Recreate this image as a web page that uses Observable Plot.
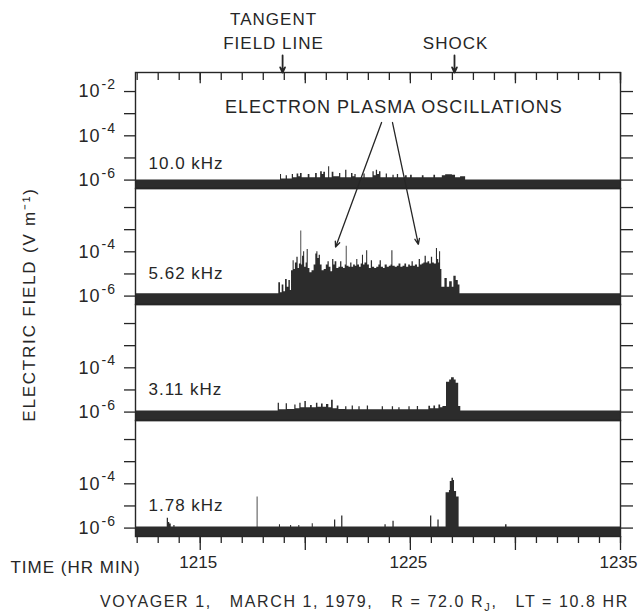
<!DOCTYPE html>
<html><head><meta charset="utf-8">
<script src="https://cdn.jsdelivr.net/npm/d3@7"></script>
<script src="https://cdn.jsdelivr.net/npm/@observablehq/plot@0.6"></script>
<style>
body{margin:0;background:#fff;}
#chart svg text{letter-spacing:1px;}
#chart svg g[aria-label="x-axis tick label"] text{letter-spacing:0;}
#cap{height:34px;box-sizing:border-box;padding-top:10px;padding-left:100px;font:16px "Liberation Sans",Arial,sans-serif;letter-spacing:1.6px;line-height:24px;white-space:pre;color:#2a2a2a;}
#cap sub{font-size:11px;vertical-align:-4px;line-height:0;}
</style></head><body>
<div id="chart"></div>
<div id="cap">VOYAGER 1,   MARCH 1, 1979,   R = 72.0 R<sub>J</sub>,   LT = 10.8 HR</div>
<script>
// Panels (frequency channels), top to bottom
const freqs = ["10.0 kHz", "5.62 kHz", "3.11 kHz", "1.78 kHz"];

// [time (minutes after 12:00 UT), log10 E (V/m)]
const p10 = [[11.92,-6.0],[18.82,-5.75],[18.87,-5.95],[19.09,-5.8],[19.15,-5.95],[19.38,-5.75],[19.44,-5.9],[19.61,-5.72],[19.69,-5.85],[19.77,-5.7],[19.85,-5.9],[20.14,-5.75],[20.22,-5.9],[20.49,-5.7],[20.57,-5.9],[20.73,-5.62],[20.81,-5.75],[20.88,-5.65],[20.96,-5.9],[21.11,-5.4],[21.16,-5.9],[21.28,-5.65],[21.36,-5.85],[21.63,-5.7],[21.69,-5.9],[21.92,-5.55],[21.98,-5.9],[22.2,-5.7],[22.27,-5.85],[22.36,-5.75],[22.42,-5.9],[22.79,-5.72],[22.85,-5.9],[23.22,-5.62],[23.28,-5.8],[23.38,-5.55],[23.44,-5.75],[23.53,-5.62],[23.6,-5.9],[23.85,-5.72],[23.91,-5.9],[24.17,-5.78],[24.23,-5.9],[24.38,-5.75],[24.44,-5.9],[24.77,-5.8],[24.85,-5.9],[25.01,-5.78],[25.09,-5.9],[25.57,-5.8],[25.65,-5.9],[26.12,-5.78],[26.2,-5.9],[26.52,-5.8],[26.68,-5.76],[27.0,-5.78],[27.15,-5.9],[27.39,-5.85],[27.63,-6.0],[35,-6.0]];

const p562 = [[11.92,-5.9],[18.74,-5.4],[18.82,-5.85],[18.9,-5.5],[18.98,-5.8],[19.06,-5.25],[19.14,-5.6],[19.22,-5.3],[19.29,-5.75],[19.345,-4.85],[19.42,-4.4],[19.47,-4.8],[19.53,-4.5],[19.6,-4.25],[19.66,-4.75],[19.72,-4.55],[19.79,-3.06],[19.83,-4.6],[19.87,-4.2],[19.92,-4.0],[19.97,-4.7],[20.04,-4.5],[20.09,-3.9],[20.14,-4.75],[20.22,-4.95],[20.32,-4.85],[20.42,-4.6],[20.5,-4.1],[20.55,-4.0],[20.6,-4.3],[20.66,-4.15],[20.72,-4.6],[20.8,-4.85],[20.9,-4.8],[21.0,-4.6],[21.08,-4.45],[21.14,-4.7],[21.22,-4.9],[21.3,-4.35],[21.36,-4.6],[21.42,-4.45],[21.5,-4.75],[21.6,-4.7],[21.68,-4.45],[21.74,-4.7],[21.82,-4.75],[21.9,-4.6],[21.95,-3.75],[21.99,-4.65],[22.08,-4.7],[22.16,-4.5],[22.22,-4.7],[22.3,-4.6],[22.38,-4.65],[22.45,-4.35],[22.5,-4.6],[22.58,-4.7],[22.66,-4.55],[22.72,-4.15],[22.77,-4.6],[22.84,-4.5],[22.92,-3.95],[22.97,-4.6],[23.05,-4.75],[23.14,-4.4],[23.2,-4.7],[23.3,-4.75],[23.4,-4.7],[23.5,-4.6],[23.56,-4.4],[23.62,-4.7],[23.72,-4.75],[23.8,-4.6],[23.9,-4.7],[24.0,-4.65],[24.08,-4.6],[24.12,-3.95],[24.17,-4.65],[24.28,-4.7],[24.38,-4.65],[24.46,-4.55],[24.55,-4.7],[24.65,-4.65],[24.74,-4.55],[24.82,-4.7],[24.92,-4.6],[25.0,-4.65],[25.08,-4.45],[25.14,-4.65],[25.24,-4.6],[25.34,-4.7],[25.42,-4.35],[25.48,-4.6],[25.56,-4.55],[25.64,-4.5],[25.7,-4.2],[25.76,-4.5],[25.84,-4.45],[25.92,-4.55],[26.0,-4.25],[26.06,-4.5],[26.14,-4.55],[26.24,-3.85],[26.29,-4.35],[26.35,-4.5],[26.39,-4.0],[26.44,-4.8],[26.5,-5.6],[26.645,-5.2],[26.756,-5.6],[26.87,-5.35],[26.994,-5.6],[27.07,-5.1],[27.18,-5.3],[27.28,-5.5],[27.36,-5.9],[35,-5.9]];

const p311 = [[11.92,-5.95],[18.71,-5.6],[18.77,-5.9],[19.09,-5.62],[19.15,-5.88],[19.5,-5.68],[19.56,-5.85],[19.74,-5.6],[19.8,-5.8],[19.98,-5.52],[20.05,-5.8],[20.25,-5.7],[20.33,-5.8],[20.53,-5.6],[20.6,-5.78],[20.77,-5.63],[20.85,-5.78],[21.01,-5.66],[21.12,-5.8],[21.25,-5.47],[21.33,-5.85],[21.52,-5.72],[21.6,-5.88],[21.92,-5.76],[21.98,-5.9],[22.23,-5.72],[22.29,-5.9],[22.55,-5.76],[22.61,-5.9],[22.95,-5.72],[23.01,-5.9],[23.66,-5.76],[23.72,-5.9],[24.14,-5.76],[24.2,-5.9],[24.45,-5.8],[24.51,-5.9],[24.93,-5.76],[24.99,-5.9],[25.33,-5.75],[25.39,-5.9],[25.88,-5.74],[25.96,-5.85],[26.12,-5.72],[26.2,-5.85],[26.36,-5.68],[26.44,-5.8],[26.55,-5.75],[26.72,-4.65],[26.87,-4.55],[26.96,-4.45],[27.09,-4.55],[27.18,-4.7],[27.3,-5.75],[27.4,-5.95],[35,-5.95]];

const p178 = [[11.92,-5.95],[13.43,-5.55],[13.49,-5.75],[13.55,-5.82],[13.62,-5.95],[13.745,-5.88],[13.8,-5.95],[17.71,-4.6],[17.75,-5.95],[18.77,-5.85],[18.82,-5.95],[19.3,-5.88],[19.35,-5.95],[19.69,-5.88],[19.74,-5.95],[20.33,-5.8],[20.38,-5.95],[21.39,-5.63],[21.45,-5.95],[21.73,-5.45],[21.79,-5.95],[23.79,-5.85],[23.85,-5.95],[24.17,-5.69],[24.23,-5.95],[25.96,-5.45],[26.02,-5.95],[26.31,-5.63],[26.37,-5.95],[26.7,-4.4],[26.86,-4.3],[26.9,-3.9],[26.98,-3.75],[27.05,-3.85],[27.1,-4.35],[27.2,-4.6],[27.32,-5.95],[29.53,-5.85],[29.6,-5.95],[35,-5.95]];

// Axis ticks
const yDecades = [1e-2, 1e-3, 1e-4, 1e-5, 1e-6];
const minuteTicks = [12,13,14,15,16,17,18,19,20,21,22,23,24,25,26,27,28,29,30,31,32,33,34,35];
const fiveMinTicks = [15,20,25,30,35];
const labeledTicks = [15,25,35];
// y tick labels per panel (exponents)
const yLabelExps = [[-2,-4,-6],[-4,-6],[-4,-6],[-4,-6]];
// frequency label heights (log10 E)
const freqLabelExp = [-5.25, -5.0, -5.0, -5.0];

// Annotation anchors (time in minutes, log10 E in the named panel)
const tangentTime = 18.92, shockTime = 27.1;
const plasmaArrows = [
  {t1: 23.63, e1: 1.84, t2: 21.44, e2: -3.79},
  {t1: 24.15, e1: 1.84, t2: 25.38, e2: -3.66}
];

const yLo = 10 ** -6.38, yHi = 10 ** -1.14;

const rows = [];
[p10, p562, p311, p178].forEach((p, i) => p.forEach(([t, e]) => rows.push({f: freqs[i], t, v: 10 ** e})));

const yLabels = [];
yLabelExps.forEach((es, i) => es.forEach(e => yLabels.push({f: freqs[i], v: 10 ** e, sup: String(e)})));
const freqLabels = freqs.map((f, i) => ({f, v: 10 ** freqLabelExp[i]}));

const ink = "#262626";
const font = "'Liberation Sans', Arial, sans-serif";

const chart = Plot.plot({
  width: 638, height: 580,
  marginLeft: 135, marginRight: 18, marginTop: 72, marginBottom: 44,
  x: {domain: [11.92, 35]},
  y: {type: "log", domain: [yLo, yHi]},
  fy: {domain: freqs, padding: 0, axis: null},
  style: {fontFamily: font, fontSize: "17px", color: ink, background: "#fff"},
  marks: [
    Plot.areaY(rows, {x: "t", y1: yLo, y2: "v", fy: "f", curve: "step-after", fill: "#2c2c2c"}),
    Plot.frame({stroke: ink, strokeWidth: 1.4}),
    Plot.axisY({anchor: "left", ticks: yDecades, tickSize: 11, tickFormat: () => "", label: null, strokeWidth: 1.3}),
    Plot.axisY({anchor: "right", ticks: yDecades, tickSize: 12, tickFormat: () => "", label: null, strokeWidth: 1.3}),
    Plot.axisX({anchor: "bottom", ticks: minuteTicks, tickSize: 7, tickFormat: () => "", label: null, strokeWidth: 1.3}),
    Plot.axisX({anchor: "bottom", ticks: fiveMinTicks, tickSize: 14, tickFormat: () => "", label: null, strokeWidth: 1.3}),
    Plot.axisX({anchor: "bottom", ticks: labeledTicks, tickSize: 0, tickPadding: 19, dx: -2, tickFormat: d => "12" + d, label: null, fontSize: 17}),
    // top inward ticks
    Plot.ruleX(minuteTicks.map(m => ({f: freqs[0], m})), {x: "m", fy: "f", y1: yHi, y2: 10 ** -1.5, stroke: ink, strokeWidth: 1.3}),
    Plot.ruleX(fiveMinTicks.map(m => ({f: freqs[0], m})), {x: "m", fy: "f", y1: yHi, y2: 10 ** -1.65, stroke: ink, strokeWidth: 1.3}),
    // y tick labels 10^e
    Plot.text(yLabels, {y: "v", fy: "f", frameAnchor: "left", text: () => "10", textAnchor: "end", dx: -35, fontSize: 18, fill: ink}),
    Plot.text(yLabels, {y: "v", fy: "f", frameAnchor: "left", text: "sup", textAnchor: "start", dx: -34, dy: -7, fontSize: 14, fill: ink}),
    // frequency labels
    Plot.text(freqLabels, {y: "v", fy: "f", frameAnchor: "left", text: "f", textAnchor: "start", dx: 13, fontSize: 17, fill: ink}),
    // y axis title
    Plot.text([{f: freqs[1]}], {fy: "f", frameAnchor: "bottom-left", text: () => "ELECTRIC FIELD (V m⁻¹)", rotate: -90, dx: -100.5, textAnchor: "middle", fontSize: 17, fill: ink}),
    // x axis title
    Plot.text([{f: freqs[3], t: 5.97, v: 10 ** -7.8}], {x: "t", y: "v", fy: "f", text: () => "TIME (HR MIN)", textAnchor: "start", fontSize: 17, fill: ink}),
    // top annotations
    Plot.text([{f: freqs[0], t: 18.49, v: 10 ** 1.27, s: "TANGENT"}, {f: freqs[0], t: 18.49, v: 10 ** 0.19, s: "FIELD LINE"}, {f: freqs[0], t: 27.15, v: 10 ** 0.19, s: "SHOCK"}],
      {x: "t", y: "v", fy: "f", text: "s", fontSize: 17, fill: ink}),
    Plot.arrow([{f: freqs[0], t: tangentTime}, {f: freqs[0], t: shockTime}],
      {x1: "t", x2: "t", y1: 10 ** -0.37, y2: yHi, fy: "f", stroke: ink, strokeWidth: 1.8, headLength: 6, headAngle: 50}),
    Plot.text([{f: freqs[0], t: 24.22, v: 10 ** -2.69}], {x: "t", y: "v", fy: "f", text: () => "ELECTRON PLASMA OSCILLATIONS", fontSize: 18, fill: ink}),
    Plot.arrow(plasmaArrows.map(a => ({...a, f: freqs[1]})), {
      x1: "t1", y1: d => 10 ** d.e1, x2: "t2", y2: d => 10 ** d.e2, fy: "f",
      stroke: ink, strokeWidth: 1.3, headLength: 7, headAngle: 45
    })
  ]
});
d3.select(chart).selectAll("text").filter(function() { return this.textContent.startsWith("ELECTRIC FIELD"); }).style("letter-spacing", "1.8px");
document.getElementById("chart").appendChild(chart);
</script>
</body></html>
